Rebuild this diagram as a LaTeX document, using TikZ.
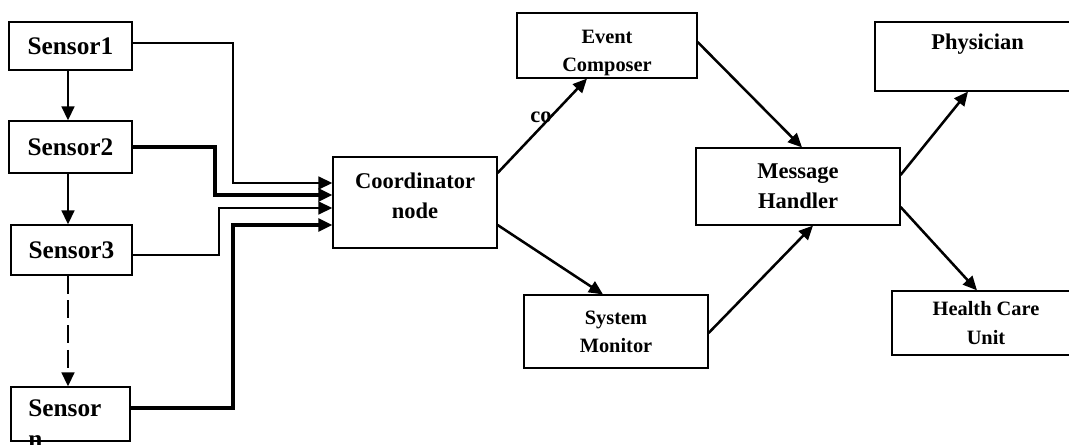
\documentclass[tikz,border=0pt]{standalone}
\usepackage{fontspec}
\setmainfont{Liberation Serif}
\usetikzlibrary{arrows.meta}

\begin{document}
\begin{tikzpicture}[x=0.025cm, y=-0.025cm, >={Triangle[length=10pt, width=9pt]}]
	\tikzstyle{box} = [draw, line width=0.8pt, inner sep=0pt, align=center, font=\bfseries]
	\tikzstyle{big} = [font=\bfseries\fontsize{18}{22.7}\selectfont]
	\tikzstyle{mid} = [font=\bfseries\fontsize{16}{21}\selectfont]
	\tikzstyle{small} = [font=\bfseries\fontsize{14.5}{20}\selectfont]
	\tikzstyle{link} = [line width=1.8pt]
	\tikzstyle{heavy} = [line width=3.2pt]
	\clip (0,0) rectangle (1069,445);
	\node[box, big, minimum width=3.075cm, minimum height=1.2cm] (sensorA) at (70.5,46) {Sensor1};
	\node[box, big, minimum width=3.075cm, minimum height=1.3cm] (sensorB) at (70.5,147) {Sensor2};
	\node[box, big, minimum width=3.025cm, minimum height=1.25cm] (sensorC) at (71.5,250) {Sensor3};
	\node[box, minimum width=2.975cm, minimum height=1.35cm] (sensorN) at (70.5,414) {};
	\node[big, inner sep=0pt, align=left, anchor=north west] (sensorNtext) at (28,399) {Sensor\\n};
	\node[box, mid, minimum width=4.1cm, minimum height=2.275cm, text depth=10pt] (coord) at (415,202.5) {Coordinator\\node};
	\node[box, small, minimum width=4.5cm, minimum height=1.625cm, text height=40pt] (event) at (607,45.5) {Event\\Composer};
	\node[box, small, minimum width=4.6cm, minimum height=1.825cm] (sysmon) at (616,331.5) {System\\Monitor};
	\node[box, mid, minimum width=5.1cm, minimum height=1.925cm] (msg) at (798,186.5) {Message\\Handler};
	\node[box, mid, minimum width=5.125cm, minimum height=1.725cm] (phys) at (977.5,56.5) {Physician\\~};
	\node[box, small, minimum width=4.7cm, minimum height=1.6cm] (health) at (986,323) {Health Care\\Unit};
	\node[mid, inner sep=0pt] (coLbl) at (541,117) {co};
	\draw [->, link] (sensorA.south -| 68,0) -- (sensorB.north -| 68,0);
	\draw [->, link] (sensorB.south -| 68,0) -- (sensorC.north -| 68,0);
	\draw [->, link, dash pattern=on 0.45cm off 0.17cm] (sensorC.south -| 68,0) -- (sensorN.north -| 68,0);
	\draw [->, link] (sensorA.east |- 0,43) -| (233,183) -- (coord.west |- 0,183);
	\draw [->, heavy] (sensorB.east |- 0,147) -| (215,195) -- (coord.west |- 0,195);
	\draw [->, link] (sensorC.east |- 0,255) -| (219,208) -- (coord.west |- 0,208);
	\draw [->, heavy] (sensorN.east |- 0,408) -| (233,225) -- (coord.west |- 0,225);
	\draw [->, link] (coord.east |- 0,173) -- (event.south -| 587,0);
	\draw [->, link] (coord.east |- 0,225) -- (sysmon.north -| 603,0);
	\draw [->, link] (event.east |- 0,42) -- (msg.north -| 802,0);
	\draw [->, link] (sysmon.east |- 0,333) -- (msg.south -| 813,0);
	\draw [->, link] (msg.east |- 0,175) -- (phys.south -| 968,0);
	\draw [->, link] (msg.east |- 0,207) -- (health.north -| 977,0);
\end{tikzpicture}
\end{document}
